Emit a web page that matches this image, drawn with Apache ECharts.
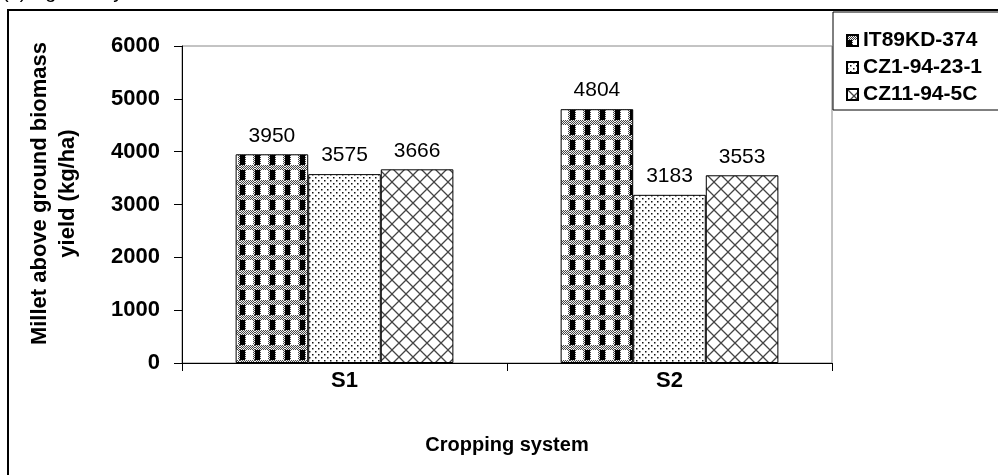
<!DOCTYPE html>
<html>
<head>
<meta charset="utf-8">
<script src="https://cdn.jsdelivr.net/npm/echarts@6/dist/echarts.min.js"></script>
<style>
html,body{margin:0;padding:0;background:#fff;}
#main{width:998px;height:475px;}
</style>
</head>
<body>
<div id="main"></div>
<script>
const categories = ['S1', 'S2'];
const seriesNames = ['IT89KD-374', 'CZ1-94-23-1', 'CZ11-94-5C'];
const valuesIT89 = [3950, 4804];
const valuesCZ1 = [3575, 3183];
const valuesCZ11 = [3666, 3553];
const yTicks = [0, 1000, 2000, 3000, 4000, 5000, 6000];
const xAxisTitle = 'Cropping system';
const yAxisTitle = 'Millet above ground biomass\nyield (kg/ha)';

function makeTile(w, h, draw) {
  const c = document.createElement('canvas');
  c.width = w; c.height = h;
  const ctx = c.getContext('2d');
  ctx.fillStyle = '#fff';
  ctx.fillRect(0, 0, w, h);
  draw(ctx, w, h);
  return c;
}
function checker(ctx, x0, y0, w, h) {
  for (let y = y0; y < y0 + h; y++) {
    for (let x = x0; x < x0 + w; x++) {
      ctx.fillStyle = ((x + y) % 2 === 0) ? '#444' : '#f4f4f4';
      ctx.fillRect(x, y, 1, 1);
    }
  }
}
const tile1 = makeTile(15, 15, function (ctx) {
  checker(ctx, 0, 0, 15, 5);
  ctx.fillStyle = '#000';
  ctx.fillRect(0, 5, 5, 10);
  checker(ctx, 5, 5, 1, 10);
  checker(ctx, 13, 5, 2, 10);
});
const tile2 = makeTile(6, 6, function (ctx) {
  ctx.fillStyle = '#111';
  ctx.fillRect(0, 0, 1.5, 1.5);
  ctx.fillRect(3, 3, 1.5, 1.5);
});
const tile3 = makeTile(14, 14, function (ctx) {
  ctx.strokeStyle = '#444';
  ctx.lineWidth = 1.3;
  ctx.beginPath();
  ctx.moveTo(-1, -1); ctx.lineTo(15, 15);
  ctx.moveTo(15, -1); ctx.lineTo(-1, 15);
  ctx.stroke();
});
const patterns = [tile1, tile2, tile3].map(t => ({ image: t, repeat: 'repeat' }));
const valueSets = [valuesIT89, valuesCZ1, valuesCZ11];

const FONT = '"Liberation Sans", Arial, sans-serif';
const chart = echarts.init(document.getElementById('main'), null, { renderer: 'canvas' });
chart.setOption({
  animation: false,
  backgroundColor: '#fff',
  grid: { left: 182, right: 166, top: 46, bottom: 112, show: true, borderColor: '#888', borderWidth: 1, backgroundColor: 'transparent' },
  legend: {
    orient: 'vertical', left: 841, top: 25, itemGap: 6,
    itemWidth: 11, itemHeight: 11, icon: 'rect',
    textStyle: { fontFamily: FONT, fontSize: 21, fontWeight: 'bold', color: '#000' },
    data: seriesNames
  },
  xAxis: {
    type: 'category', data: categories,
    name: xAxisTitle, nameLocation: 'middle', nameGap: 72,
    nameTextStyle: { fontFamily: FONT, fontSize: 20, fontWeight: 'bold', color: '#000' },
    axisLine: { lineStyle: { color: '#000', width: 1 } },
    axisTick: { show: true, inside: false, length: 8, alignWithLabel: false, lineStyle: { color: '#000' } },
    axisLabel: { fontFamily: FONT, fontSize: 22, fontWeight: 'bold', color: '#000', margin: 7 }
  },
  yAxis: {
    type: 'value', min: yTicks[0], max: yTicks[yTicks.length - 1], interval: 1000,
    name: yAxisTitle, nameLocation: 'middle', nameRotate: 90, nameGap: 100,
    nameTextStyle: { fontFamily: FONT, fontSize: 22, fontWeight: 'bold', color: '#000', lineHeight: 28, align: 'center', padding: [0, 0, 0, 22] },
    axisLine: { show: true, lineStyle: { color: '#000', width: 1 } },
    axisTick: { show: true, inside: false, length: 8, lineStyle: { color: '#000' } },
    splitLine: { show: false },
    axisLabel: { fontFamily: FONT, fontSize: 22, fontWeight: 'bold', color: '#000', margin: 22, formatter: v => String(v) }
  },
  series: seriesNames.map((name, i) => ({
    name: name,
    type: 'bar',
    data: valueSets[i],
    barGap: '0%',
    barCategoryGap: '33%',
    itemStyle: { color: patterns[i], borderColor: '#000', borderWidth: 1 },
    label: { show: true, position: 'top', distance: 8, fontFamily: FONT, fontSize: 21, color: '#000' }
  })),
  graphic: [
    { type: 'rect', shape: { x: 8, y: 10, width: 1000, height: 480 }, style: { fill: 'none', stroke: '#000', lineWidth: 2 }, silent: true, z: 100 },
    { type: 'rect', shape: { x: 833, y: 12, width: 180, height: 98 }, style: { fill: 'none', stroke: '#000', lineWidth: 1 }, silent: true, z: 100 },
    { type: 'text', x: 2, y: -18, style: { text: '(a) Agronomy', fontSize: 20, fontFamily: FONT, fill: '#000' }, silent: true }
  ]
});
</script>
</body>
</html>
